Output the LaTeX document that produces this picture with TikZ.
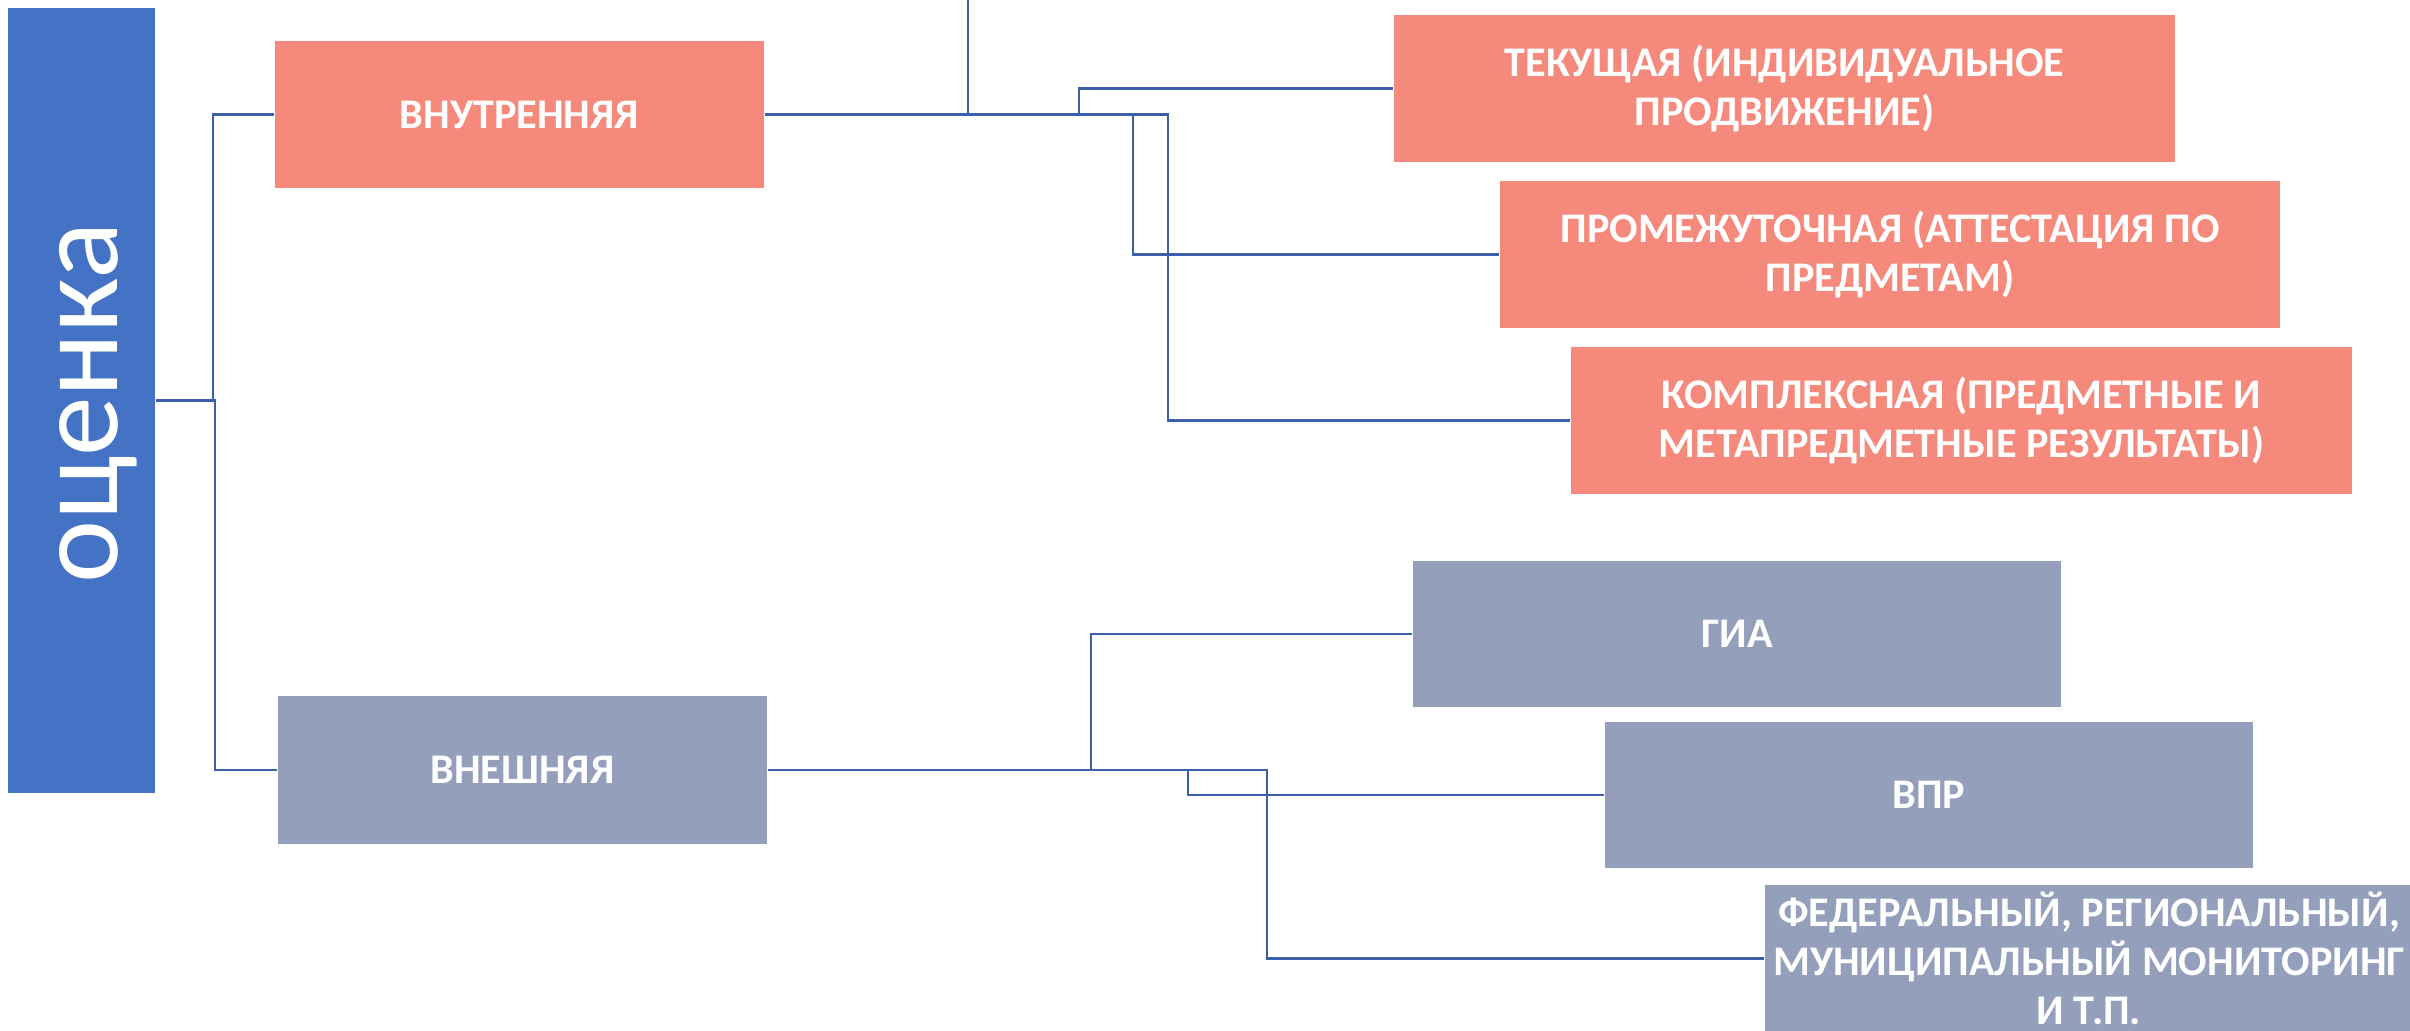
\documentclass[tikz,border=0pt]{standalone}
\usepackage{fontspec}
\setmainfont{Carlito}
\definecolor{mainblue}{HTML}{4472C4}
\definecolor{salmon}{HTML}{F5897B}
\definecolor{slate}{HTML}{949FBC}
\definecolor{linkblue}{HTML}{3B5FAA}
\begin{document}
\begin{tikzpicture}[x=0.01cm,y=-0.01cm,
  box/.style={rectangle, inner sep=0pt, text=white, align=center,
    font=\bfseries\fontsize{12}{14}\selectfont},
  redbox/.style={box, fill=salmon},
  graybox/.style={box, fill=slate},
  link/.style={draw=linkblue, line width=0.7pt}]
\useasboundingbox (0,0) rectangle (2410,1031);

\node[rectangle, fill=mainblue, inner sep=0pt, minimum width=1.47cm, minimum height=7.85cm] (ocenka) at (81.5,400.5) {};
\node[anchor=base, rotate=90, text=white, inner sep=0pt, font=\fontsize{34}{40}\selectfont] (ocenkalabel) at (117,403) {оценка};

\node[redbox, minimum width=4.89cm, minimum height=1.47cm] (vnutr) at (519.5,114.5) {ВНУТРЕННЯЯ};
\node[graybox, minimum width=4.89cm, minimum height=1.48cm] (vnesh) at (522.5,770) {ВНЕШНЯЯ};

\node[redbox, minimum width=7.81cm, minimum height=1.47cm] (tek) at (1784.5,88.5) {ТЕКУЩАЯ (ИНДИВИДУАЛЬНОЕ\\ПРОДВИЖЕНИЕ)};
\node[redbox, minimum width=7.80cm, minimum height=1.47cm] (prom) at (1890,254.5) {ПРОМЕЖУТОЧНАЯ (АТТЕСТАЦИЯ ПО\\ПРЕДМЕТАМ)};
\node[redbox, minimum width=7.81cm, minimum height=1.47cm] (kompl) at (1961.5,420.5) {КОМПЛЕКСНАЯ (ПРЕДМЕТНЫЕ И\\МЕТАПРЕДМЕТНЫЕ РЕЗУЛЬТАТЫ)};

\node[graybox, minimum width=6.48cm, minimum height=1.46cm] (gia) at (1737,634) {ГИА};
\node[graybox, minimum width=6.48cm, minimum height=1.46cm] (vpr) at (1929,795) {ВПР};
\node[graybox, minimum width=6.48cm, minimum height=1.47cm] (fed) at (2089,958.5) {ФЕДЕРАЛЬНЫЙ, РЕГИОНАЛЬНЫЙ,\\МУНИЦИПАЛЬНЫЙ МОНИТОРИНГ\\И Т.П.};

\coordinate (topend) at (968,0);
\coordinate (topjoin) at (968,114.5);

% connectors from оценка
\draw[link] (ocenka.east) -- ++(57,0) |- (vnutr.west);
\draw[link] (ocenka.east) -- ++(59,0) |- (vnesh.west);

% top line
\draw[link] (topend) -- (topjoin);

% internal branches
\draw[link] (vnutr.east) -- ++(314,0) |- (tek.west);
\draw[link] (vnutr.east) -- ++(368,0) |- (prom.west);
\draw[link] (vnutr.east) -- ++(403,0) |- (kompl.west);

% external branches
\draw[link] (vnesh.east) -- ++(323,0) |- (gia.west);
\draw[link] (vnesh.east) -- ++(420,0) |- (vpr.west);
\draw[link] (vnesh.east) -- ++(499,0) |- (fed.west);
\end{tikzpicture}
\end{document}
